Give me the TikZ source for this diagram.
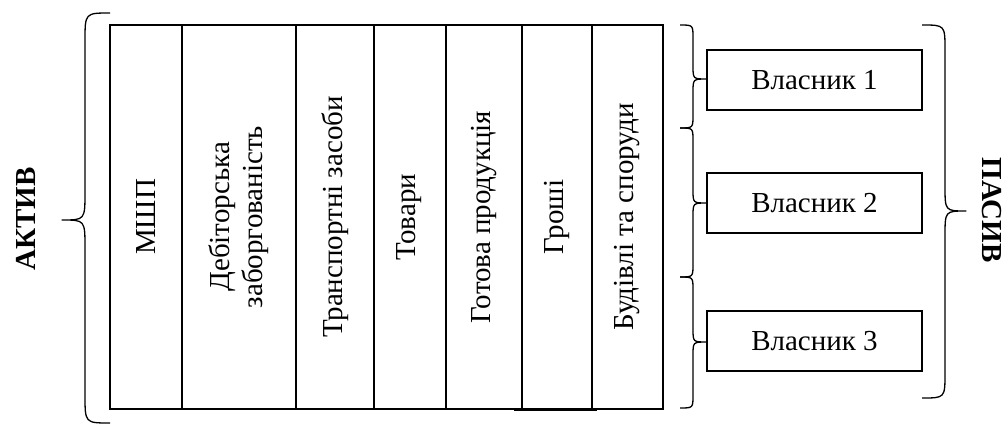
\documentclass[tikz,border=0pt]{standalone}
\usepackage{fontspec}
\setmainfont{Liberation Serif}
\begin{document}
\begin{tikzpicture}[x=1pt,y=-1pt,
  every node/.style={font=\fontsize{29}{33}\selectfont},
  col/.style={draw, line width=1.3pt, rotate=90, minimum width=384pt, inner sep=0pt, align=center},
  ownerbox/.style={draw, line width=1.3pt, minimum width=215pt, minimum height=60pt, inner sep=0pt},
  bracket/.style={line width=1.3pt, line join=round},
  sidelabel/.style={font=\fontsize{29}{33}\selectfont\bfseries, inner sep=0pt}]
\useasboundingbox (0,0) rectangle (1008,425);

% curly brace: end x, body x, tip x, top y, tip y, bottom y, corner radius
\newcommand\curlyb[7]{%
  \draw[bracket] (#1,#4) .. controls (#2,#4) .. (#2,#4+#7) -- (#2,#5-#7)
    .. controls (#2,#5) .. (#3,#5) .. controls (#2,#5) .. (#2,#5+#7)
    -- (#2,#6-#7) .. controls (#2,#6) .. (#1,#6);}

% asset columns
\node[col, minimum height=72pt]  (c1) at (146,217) {МШП};
\node[col, minimum height=114pt] (c2) at (239,217) {Дебіторська\\заборгованість};
\node[col, minimum height=78pt]  (c3) at (335,217) {Транспортні засоби};
\node[col, minimum height=72pt]  (c4) at (409.5,217) {Товари};
\node[col, minimum height=76pt]  (c5) at (484,217) {Готова продукція};
\node[col, minimum height=70pt]  (c6) at (557,217) {Гроші};
\node[col, minimum height=71pt]  (c7) at (627.5,217) {Будівлі та споруди};
% slightly offset bottom edge under the money column
\draw[line width=1.3pt] (514,410.2) -- (597,410.2);

% owners
\node[ownerbox] (o1) at (814.5,80)  {Власник 1};
\node[ownerbox] (o2) at (814.5,203) {Власник 2};
\node[ownerbox] (o3) at (814.5,341) {Власник 3};

% braces
\curlyb{110}{85}{62}{13}{220}{423}{28}
\curlyb{680}{693}{707}{25}{79}{128}{13}
\curlyb{680}{693}{707}{128}{203}{277}{13}
\curlyb{680}{693}{707}{277}{342}{408}{13}
\curlyb{922}{945}{966}{25}{211}{398}{25}

% side labels
\node[sidelabel, rotate=90]  (act) at (26,219)  {АКТИВ};
\node[sidelabel, rotate=-90] (pas) at (992,210) {ПАСИВ};
\end{tikzpicture}
\end{document}
